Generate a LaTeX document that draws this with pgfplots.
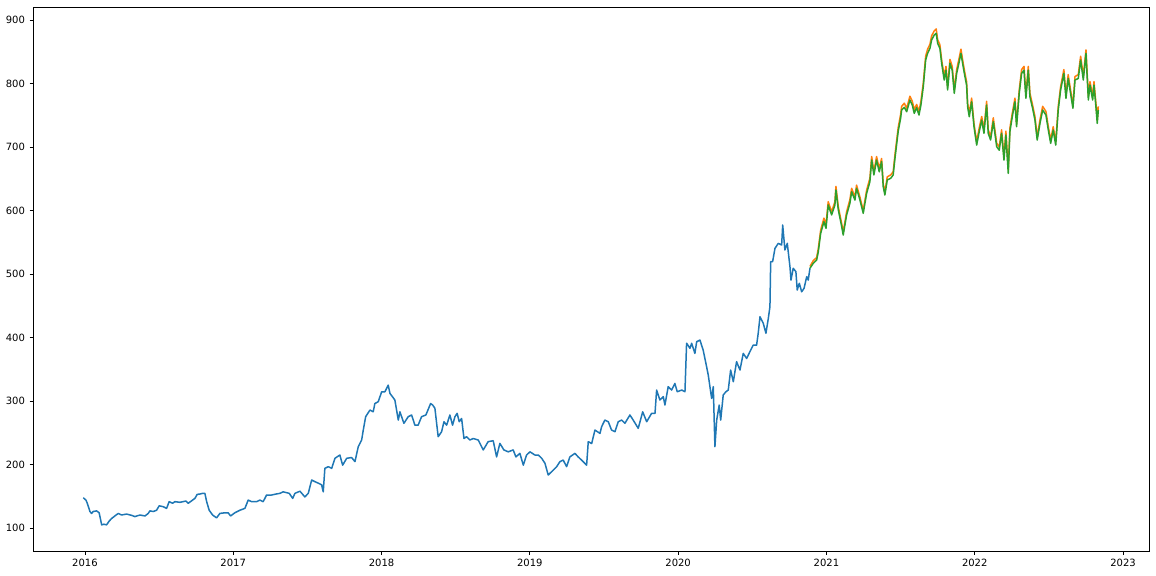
\documentclass[border=0pt]{standalone}
\usepackage{fontspec}
\setmainfont{DejaVu Sans}
\usepackage{pgfplots}
\pgfplotsset{compat=1.18}
\definecolor{tabblue}{HTML}{1F77B4}
\definecolor{taborange}{HTML}{FF7F0E}
\definecolor{tabgreen}{HTML}{2CA02C}
\begin{document}
\fontsize{10}{12}\selectfont
\begin{tikzpicture}
\begin{axis}[name=ax, at={(0,0)}, anchor=south west,
  scale only axis, width=1116pt, height=544pt,
  xmin=2015.65, xmax=2023.175, ymin=63.8, ymax=920.5,
  xtick={2016,2017,2018,2019,2020,2021,2022,2023},
  xticklabels={2016,2017,2018,2019,2020,2021,2022,2023},
  ytick={100,200,300,400,500,600,700,800,900},
  xtick pos=bottom, ytick pos=left,
  tick align=outside, major tick length=3.5pt,
  every tick/.style={black, line width=0.8pt},
  axis line style={black, line width=0.8pt},
  /pgf/number format/assume math mode=true,
  /pgf/number format/1000 sep={},
  tick label style={font=\fontsize{10}{12}\selectfont},
  xticklabel style={yshift=-1pt},
  yticklabel style={xshift=-1pt},
  clip=true,
]
\addplot[tabblue, line width=1.5pt, line join=round] coordinates {
(2015.989,147.7)(2016.007,144)(2016.016,139)(2016.034,126)(2016.045,123)(2016.056,126)(2016.079,127)(2016.096,124)(2016.106,113)(2016.113,105)(2016.128,106)(2016.146,105)(2016.164,111)(2016.180,115)(2016.202,119)(2016.225,123)(2016.247,120.5)(2016.281,122)(2016.315,120)(2016.337,118)(2016.371,120.5)(2016.405,119)(2016.427,123)(2016.438,127)(2016.461,126)(2016.483,128)(2016.501,135)(2016.528,133.6)(2016.551,131)(2016.568,141.5)(2016.591,139)(2016.607,141.5)(2016.641,140.5)(2016.681,142.5)(2016.697,139)(2016.726,144)(2016.742,146.7)(2016.757,153)(2016.775,153.5)(2016.794,154.6)(2016.809,154.6)(2016.821,141.5)(2016.838,128)(2016.861,120.5)(2016.888,116)(2016.910,123)(2016.944,124)(2016.966,124)(2016.982,119)(2017.011,124)(2017.045,128)(2017.079,131)(2017.101,144)(2017.124,141.5)(2017.158,141.5)(2017.180,144)(2017.202,141.5)(2017.225,152)(2017.259,152)(2017.288,153.5)(2017.315,154.6)(2017.337,157)(2017.378,154.6)(2017.401,146.7)(2017.416,154.6)(2017.450,158)(2017.483,149)(2017.506,154.6)(2017.529,175.6)(2017.551,173)(2017.580,170)(2017.596,168)(2017.607,157)(2017.618,194)(2017.641,196.6)(2017.664,194)(2017.686,209.8)(2017.719,215)(2017.738,199)(2017.765,209.8)(2017.798,211)(2017.821,204.6)(2017.843,228)(2017.866,238.6)(2017.877,254.3)(2017.893,275.3)(2017.922,285.8)(2017.944,283)(2017.955,296)(2017.978,299)(2018.001,314.6)(2018.023,314.6)(2018.045,325)(2018.057,312)(2018.090,301.6)(2018.113,270)(2018.124,283)(2018.151,264.9)(2018.180,275.3)(2018.203,278)(2018.225,262)(2018.247,262)(2018.270,275.3)(2018.299,278)(2018.331,296)(2018.345,293.7)(2018.360,288.5)(2018.382,243.8)(2018.405,251.6)(2018.421,267.4)(2018.439,262)(2018.461,278)(2018.479,262)(2018.495,275.3)(2018.510,280.6)(2018.524,267.4)(2018.540,272.5)(2018.556,241)(2018.574,243.8)(2018.596,238.6)(2018.618,241)(2018.652,238.6)(2018.686,223)(2018.719,236)(2018.753,237.5)(2018.776,212)(2018.798,233.3)(2018.825,223)(2018.854,220)(2018.888,223)(2018.906,212)(2018.933,217.6)(2018.956,199)(2018.978,215)(2019.001,220)(2019.034,215)(2019.057,215)(2019.080,209.8)(2019.102,202)(2019.124,183.5)(2019.147,188.7)(2019.181,196.6)(2019.203,204.6)(2019.225,207)(2019.248,196.6)(2019.270,212)(2019.304,217.6)(2019.326,212)(2019.349,207)(2019.383,199)(2019.394,236)(2019.417,233)(2019.439,254.3)(2019.473,249)(2019.484,259.5)(2019.506,270)(2019.529,267.4)(2019.551,254.3)(2019.574,251.6)(2019.596,267.4)(2019.619,270)(2019.641,264.9)(2019.675,278)(2019.697,270)(2019.731,257)(2019.761,283)(2019.788,267.4)(2019.821,280.6)(2019.844,280.6)(2019.855,317.3)(2019.877,301.6)(2019.900,306.8)(2019.911,293.7)(2019.933,322.6)(2019.956,317.3)(2019.978,327.7)(2019.994,314.6)(2020.024,317.3)(2020.046,314.6)(2020.057,391)(2020.080,383)(2020.091,391)(2020.113,375)(2020.125,393.4)(2020.147,396)(2020.169,380)(2020.192,354)(2020.203,341)(2020.226,304)(2020.237,322.6)(2020.248,228)(2020.260,270)(2020.277,293.7)(2020.287,270)(2020.304,309.4)(2020.322,314.6)(2020.338,317.3)(2020.354,348.8)(2020.372,330.4)(2020.394,362)(2020.417,348.8)(2020.439,375)(2020.462,367)(2020.484,377.7)(2020.506,388)(2020.529,388)(2020.540,406.7)(2020.552,432.8)(2020.574,422.4)(2020.592,406.7)(2020.608,430)(2020.619,448.5)(2020.624,519.4)(2020.637,519.4)(2020.653,540.4)(2020.675,548.3)(2020.698,545.7)(2020.705,577.2)(2020.720,537.8)(2020.736,548.3)(2020.754,511.5)(2020.761,490.5)(2020.776,509)(2020.794,503.7)(2020.803,474.8)(2020.817,485.4)(2020.833,472)(2020.849,477.5)(2020.867,495.8)(2020.877,490.5)(2020.889,509)
};
\addplot[taborange, line width=1.5pt, line join=round] coordinates {
(2020.889,512)(2020.911,521)(2020.934,526)(2020.945,540)(2020.961,569)(2020.983,588)(2020.997,578)(2021.012,614)(2021.035,598)(2021.057,614)(2021.064,638)(2021.080,606)(2021.103,579)(2021.113,566)(2021.136,598)(2021.158,617)(2021.170,635)(2021.192,621)(2021.203,640)(2021.226,621)(2021.248,600)(2021.271,632)(2021.293,651)(2021.305,685)(2021.320,661)(2021.338,685)(2021.356,666)(2021.372,682)(2021.383,642)(2021.394,629)(2021.410,653)(2021.433,656)(2021.450,661)(2021.462,688)(2021.484,731)(2021.500,751)(2021.507,764)(2021.525,769)(2021.541,761)(2021.563,780)(2021.579,772)(2021.592,759)(2021.608,767)(2021.624,756)(2021.637,772)(2021.653,801)(2021.669,843)(2021.682,854)(2021.698,862)(2021.709,875)(2021.727,883)(2021.740,886)(2021.750,869)(2021.765,861)(2021.777,837)(2021.794,811)(2021.806,827)(2021.817,795)(2021.833,838)(2021.848,827)(2021.862,790)(2021.878,822)(2021.893,838)(2021.907,854)(2021.922,832)(2021.934,816)(2021.945,803)(2021.952,769)(2021.963,753)(2021.979,777)(2021.995,737)(2022.013,708)(2022.030,730)(2022.047,748)(2022.062,727)(2022.080,772)(2022.091,727)(2022.107,716)(2022.125,746)(2022.148,706)(2022.165,700)(2022.181,727)(2022.197,685)(2022.210,725)(2022.226,664)(2022.237,730)(2022.253,753)(2022.271,777)(2022.282,737)(2022.300,790)(2022.316,822)(2022.332,827)(2022.345,782)(2022.361,827)(2022.372,785)(2022.390,766)(2022.406,748)(2022.421,716)(2022.440,743)(2022.458,764)(2022.480,756)(2022.496,732)(2022.512,711)(2022.529,732)(2022.546,708)(2022.563,764)(2022.579,795)(2022.601,822)(2022.615,782)(2022.630,814)(2022.646,790)(2022.662,766)(2022.676,811)(2022.698,814)(2022.714,843)(2022.732,811)(2022.750,853)(2022.766,780)(2022.777,803)(2022.795,780)(2022.804,803)(2022.817,769)(2022.826,742)(2022.833,764)
};
\addplot[tabgreen, line width=1.5pt, line join=round] coordinates {
(2020.889,509)(2020.911,516.8)(2020.934,522)(2020.945,535)(2020.961,564)(2020.983,582.4)(2020.997,572)(2021.012,608.7)(2021.035,593)(2021.057,608.7)(2021.064,632.3)(2021.080,601)(2021.103,574.6)(2021.113,561.4)(2021.136,593)(2021.158,611.3)(2021.170,629.6)(2021.192,616.5)(2021.203,635)(2021.226,616.5)(2021.248,595.6)(2021.271,627)(2021.293,645.4)(2021.305,679.5)(2021.320,656)(2021.338,679.5)(2021.356,661)(2021.372,676.9)(2021.383,637.5)(2021.394,624.4)(2021.410,648)(2021.433,650.7)(2021.450,656)(2021.462,682.2)(2021.484,725)(2021.500,745)(2021.507,758.3)(2021.525,762.5)(2021.541,755.6)(2021.563,774)(2021.579,766)(2021.592,753)(2021.608,762)(2021.624,750.4)(2021.637,766)(2021.653,795)(2021.669,837)(2021.682,847.5)(2021.698,855.4)(2021.709,868.5)(2021.727,876.4)(2021.740,879)(2021.750,863.3)(2021.765,855.4)(2021.777,831.8)(2021.794,805.5)(2021.806,821)(2021.817,789.8)(2021.833,831.8)(2021.848,821)(2021.862,784.6)(2021.878,816)(2021.893,831.8)(2021.907,847.5)(2021.922,826.5)(2021.934,810.7)(2021.945,797.6)(2021.952,763.5)(2021.963,747.7)(2021.979,771.3)(2021.995,732)(2022.013,703)(2022.030,724)(2022.047,742.5)(2022.062,721.6)(2022.080,766)(2022.091,721.6)(2022.107,711)(2022.125,740)(2022.148,700.5)(2022.165,695)(2022.181,721.6)(2022.197,679.5)(2022.210,719)(2022.226,658.6)(2022.237,724)(2022.253,747.7)(2022.271,771.3)(2022.282,732)(2022.300,784.6)(2022.316,816)(2022.332,821)(2022.345,776.7)(2022.361,821)(2022.372,779.3)(2022.390,761)(2022.406,742.5)(2022.421,711)(2022.440,737.3)(2022.458,758.3)(2022.480,750.4)(2022.496,726.8)(2022.512,705.8)(2022.529,726.8)(2022.546,703)(2022.563,758.3)(2022.579,789.8)(2022.601,816)(2022.615,776.7)(2022.630,808)(2022.646,784.6)(2022.662,761)(2022.676,805.5)(2022.698,808)(2022.714,837)(2022.732,805.5)(2022.750,847.5)(2022.766,774)(2022.777,797.6)(2022.795,774)(2022.804,797.6)(2022.817,763.5)(2022.826,737.3)(2022.833,758.3)
};
\end{axis}
\pgfresetboundingbox
\path ([shift={(-33pt,-24pt)}]ax.south west) rectangle ([shift={(7pt,7pt)}]ax.north east);
\end{tikzpicture}
\end{document}
